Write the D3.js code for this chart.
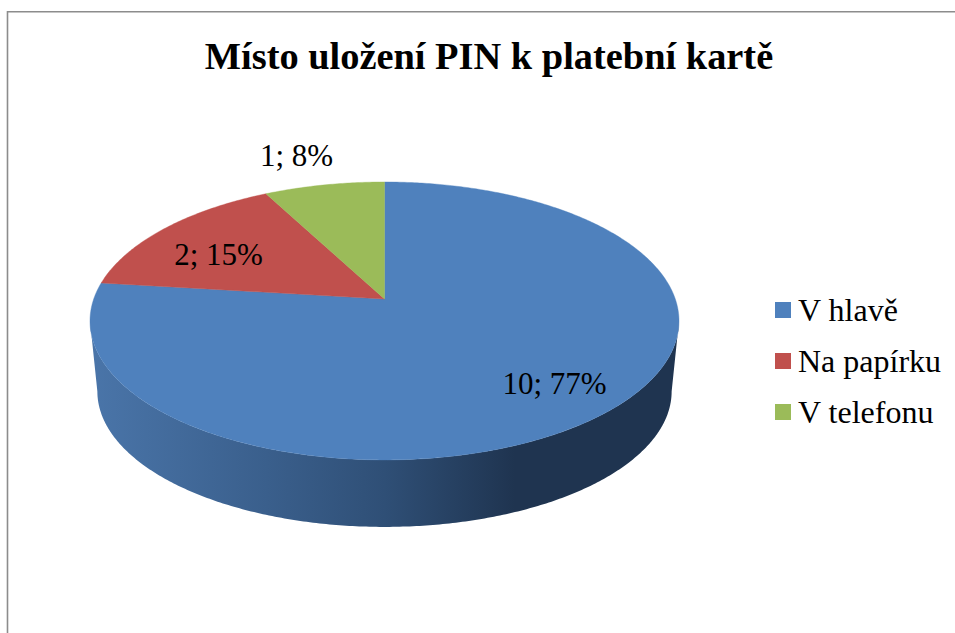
<!DOCTYPE html>
<html>
<head>
<meta charset="utf-8">
<script src="https://cdnjs.cloudflare.com/ajax/libs/d3/7.8.5/d3.min.js"></script>
<style>
html,body{margin:0;padding:0;background:#fff;overflow:hidden}
svg{display:block}
text{font-family:"Liberation Serif",serif;fill:#000}
</style>
</head>
<body>
<svg id="c" width="955" height="633"></svg>
<script>
const titleText = "Místo uložení PIN k platební kartě";
const categories = ["V hlavě", "Na papírku", "V telefonu"];
const values = [10, 2, 1];
const colors = ["#4f81bd", "#c0504d", "#9bbb59"];

// layout, kept apart from the data
const cx = 384.5, apexY = 299, k = -0.158, A = 290.8, B = 135.5;
const depthY = 71, depthScale = 0.975;
const labelOffsets = [[170, 95], [-166, -34], [-88, -133]]; // baseline-centre, from the apex

const svg = d3.select("#c");
const total = d3.sum(values);

// perspective view of a unit-circle pie
function project(a, scale = 1, dy = 0) {
  const ux = Math.sin(a), uy = -Math.cos(a), w = 1 + k * uy;
  return [cx + scale * A * ux / w, apexY + dy + scale * B * uy / w];
}
function samples(a0, a1) {
  const n = Math.max(2, Math.ceil(Math.abs(a1 - a0) / 0.01));
  return d3.range(n + 1).map(i => a0 + (a1 - a0) * i / n);
}
const line = d3.line();
const arcs = d3.pie().sort(null).value(d => d)(values);

// frame, cut off by the picture on the right and at the bottom
svg.append("path")
  .attr("d", "M7.5,633V11.75H955")
  .attr("fill", "none").attr("stroke", "#8c8c8c").attr("stroke-width", 1.6);

// side gradient
const defs = svg.append("defs");
const grad = defs.append("linearGradient").attr("id", "side")
  .attr("gradientUnits", "userSpaceOnUse")
  .attr("x1", 90).attr("x2", 680).attr("y1", 0).attr("y2", 0);
[[0, "#4a75a9"], [0.3, "#3a5f8c"], [0.5, "#2f4f76"], [0.72, "#1f3450"], [1, "#1f3450"]]
  .forEach(([o, c]) => grad.append("stop").attr("offset", o).attr("stop-color", c));

// visible wall: between the two silhouette points of the ellipse
const frontStart = Math.acos(k), frontEnd = 2 * Math.PI - frontStart;
arcs.forEach(d => {
  const a0 = Math.max(d.startAngle, frontStart), a1 = Math.min(d.endAngle, frontEnd);
  if (a1 <= a0) return;
  const angles = samples(a0, a1);
  const pts = angles.map(a => project(a)).concat(
    angles.slice().reverse().map(a => project(a, depthScale, depthY)));
  svg.append("path").attr("d", line(pts) + "Z").attr("fill", "url(#side)");
});

// top surface
const apex = [cx, apexY];
arcs.forEach((d, i) => {
  const pts = [apex].concat(samples(d.startAngle, d.endAngle).map(a => project(a)));
  svg.append("path").attr("d", line(pts) + "Z")
    .attr("fill", colors[i]).attr("stroke", colors[i]).attr("stroke-width", 0.4);
});

// data labels
arcs.forEach((d, i) => {
  svg.append("text")
    .attr("x", cx + labelOffsets[i][0]).attr("y", apexY + labelOffsets[i][1])
    .attr("text-anchor", "middle").attr("font-size", 31)
    .text(`${d.value}; ${Math.round(d.value / total * 100)}%`);
});

// title
svg.append("text").attr("x", 489).attr("y", 69)
  .attr("text-anchor", "middle").attr("font-size", 38.4).attr("font-weight", "bold")
  .text(titleText);

// legend
const legendY = d3.scalePoint().domain(categories).range([310, 412]);
const legend = svg.selectAll("g.leg").data(categories).join("g").attr("class", "leg");
legend.append("rect").attr("x", 775).attr("y", d => legendY(d) - 8)
  .attr("width", 16).attr("height", 16).attr("fill", (d, i) => colors[i]);
legend.append("text").attr("x", 798).attr("y", d => legendY(d) + 10.7)
  .attr("font-size", 32).text(d => d);
</script>
</body>
</html>
